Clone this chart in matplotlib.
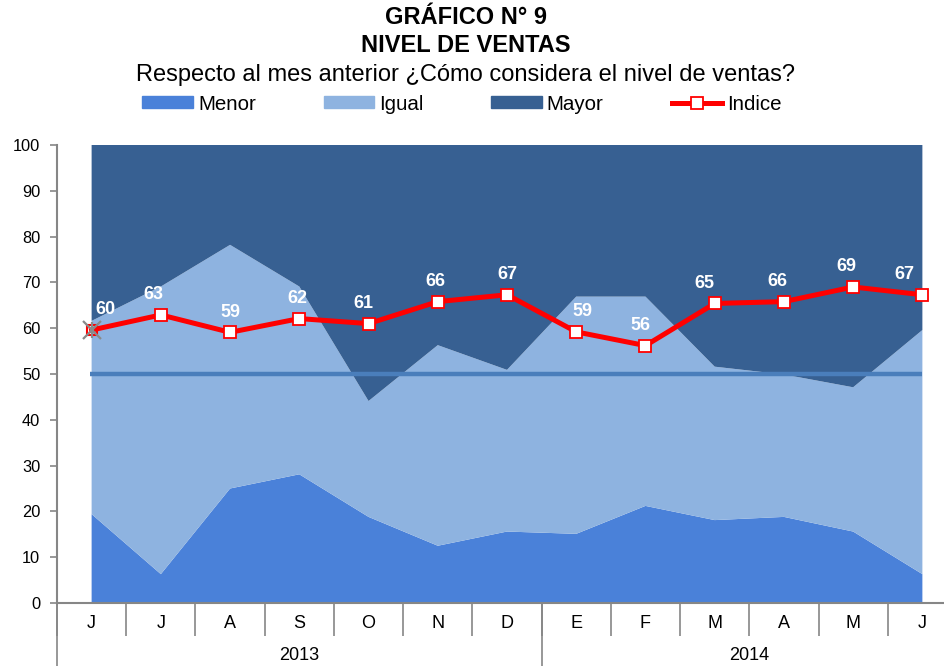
import matplotlib
matplotlib.use("Agg")
import matplotlib.pyplot as plt
from matplotlib.lines import Line2D
from matplotlib.patches import Patch
import matplotlib.transforms as mtransforms

plt.rcParams['font.family'] = ['Liberation Sans', 'DejaVu Sans']

months = ["J", "J", "A", "S", "O", "N", "D", "E", "F", "M", "A", "M", "J"]
years = ["2013", "2014"]
year_counts = [7, 6]
menor = [19.4, 6.3, 25.0, 28.1, 18.8, 12.5, 15.6, 15.1, 21.2, 18.1, 18.8, 15.6, 6.3]
igual = [42.2, 62.8, 53.2, 41.0, 25.3, 43.8, 35.3, 51.8, 45.7, 33.5, 31.1, 31.5, 53.3]
mayor = [38.4, 30.9, 21.8, 30.9, 55.9, 43.7, 49.1, 33.1, 33.1, 48.4, 50.1, 52.9, 40.4]
indice = [59.6, 62.9, 59.1, 62.1, 61.0, 65.8, 67.3, 59.2, 56.2, 65.4, 65.8, 69.0, 67.3]
reference_level = 50

c_menor = "#4a81d9"
c_igual = "#8eb3e0"
c_mayor = "#376092"
c_ref = "#4a7ebb"
c_red = "#ff0000"
gray = "#868686"

fig = plt.figure(figsize=(9.45, 6.66), dpi=100)
ax = fig.add_axes([57 / 945, 63 / 666, 900 / 945, 458 / 666])

x = list(range(len(months)))
ax.stackplot(x, menor, igual, mayor, colors=[c_menor, c_igual, c_mayor],
             linewidth=0, zorder=1)
ax.plot([x[0] - 0.02, x[-1]], [reference_level, reference_level],
        color=c_ref, lw=3.2, zorder=2, solid_capstyle='butt')
ax.plot(x, indice, color=c_red, lw=3.6, zorder=3)
ax.plot(x[1:], indice[1:], ls='none', marker='s', ms=8.5, mfc='white',
        mec=c_red, mew=1.3, zorder=4)
ax.plot(x[:1], indice[:1], ls='none', marker='s', ms=7.5, mfc='none',
        mec=c_red, mew=1.5, zorder=4)
ax.plot(x[:1], indice[:1], ls='none', marker='x', ms=13,
        mec='#8a8a8a', mew=1.6, zorder=5)
ax.plot(x[:1], indice[:1], ls='none', marker='|', ms=12,
        mec='#8a8a8a', mew=1.6, zorder=5)

dx_px = [14, -7, 0, -2, -5, -2, 0, 6, -5, -10, -7, -7, -18]
for xi, v, d in zip(x, indice, dx_px):
    ax.annotate(f"{v:.0f}", (xi, v), xytext=(d * 0.72, 14.5),
                textcoords='offset points', ha='center', va='center',
                color='white', fontsize=13, fontweight='bold', zorder=6)

ax.set_xlim(-0.5, len(months) - 0.5)
ax.set_ylim(0, 100)
ax.set_yticks(range(0, 101, 10))
ax.tick_params(axis='y', direction='out', length=5, width=1.2, color=gray,
               labelsize=11.8, pad=7)
ax.set_xticks([i - 0.5 for i in range(len(months) + 1)])
ax.set_xticklabels([])
ax.tick_params(axis='x', direction='out', length=23.5, width=1.2, color=gray)
for s in ['top', 'right']:
    ax.spines[s].set_visible(False)
for s in ['left', 'bottom']:
    ax.spines[s].set_color(gray)
    ax.spines[s].set_linewidth(1.5)

trans = mtransforms.blended_transform_factory(ax.transData, ax.transAxes)
for xi, m in zip(x, months):
    ax.text(xi, -0.0437, m, transform=trans, ha='center', va='center',
            fontsize=13)
start = 0
for yr, n in zip(years, year_counts):
    center = start + (n - 1) / 2
    ax.text(center, -0.1157, yr, transform=trans, ha='center', va='center',
            fontsize=13)
    ax.add_line(Line2D([start - 0.5, start - 0.5], [0, -0.14], transform=trans,
                       color=gray, lw=1.2, clip_on=False))
    start += n

cx = 466 / 945
fig.text(cx, 1 - 17 / 666, "GRÁFICO N° 9", ha='center', va='center',
         fontsize=17, fontweight='bold')
fig.text(cx, 1 - 45 / 666, "NIVEL DE VENTAS", ha='center', va='center',
         fontsize=17, fontweight='bold')
fig.text(cx, 1 - 75 / 666,
         "Respecto al mes anterior ¿Cómo considera el nivel de ventas?",
         ha='center', va='center', fontsize=17)

handles = [Patch(color=c_menor), Patch(color=c_igual), Patch(color=c_mayor),
           Line2D([], [], color=c_red, lw=3.6, marker='s', ms=8.5, mfc='white',
                  mec=c_red, mew=1.3)]
fig.legend(handles, ["Menor", "Igual", "Mayor", "Indice"], ncol=4,
           loc='center', bbox_to_anchor=(462 / 945, 1 - 104 / 666),
           frameon=False, fontsize=14.8, handlelength=2.45, handleheight=0.5,
           handletextpad=0.25, columnspacing=3.3, borderpad=0)

fig.savefig("out.png", dpi=100)
